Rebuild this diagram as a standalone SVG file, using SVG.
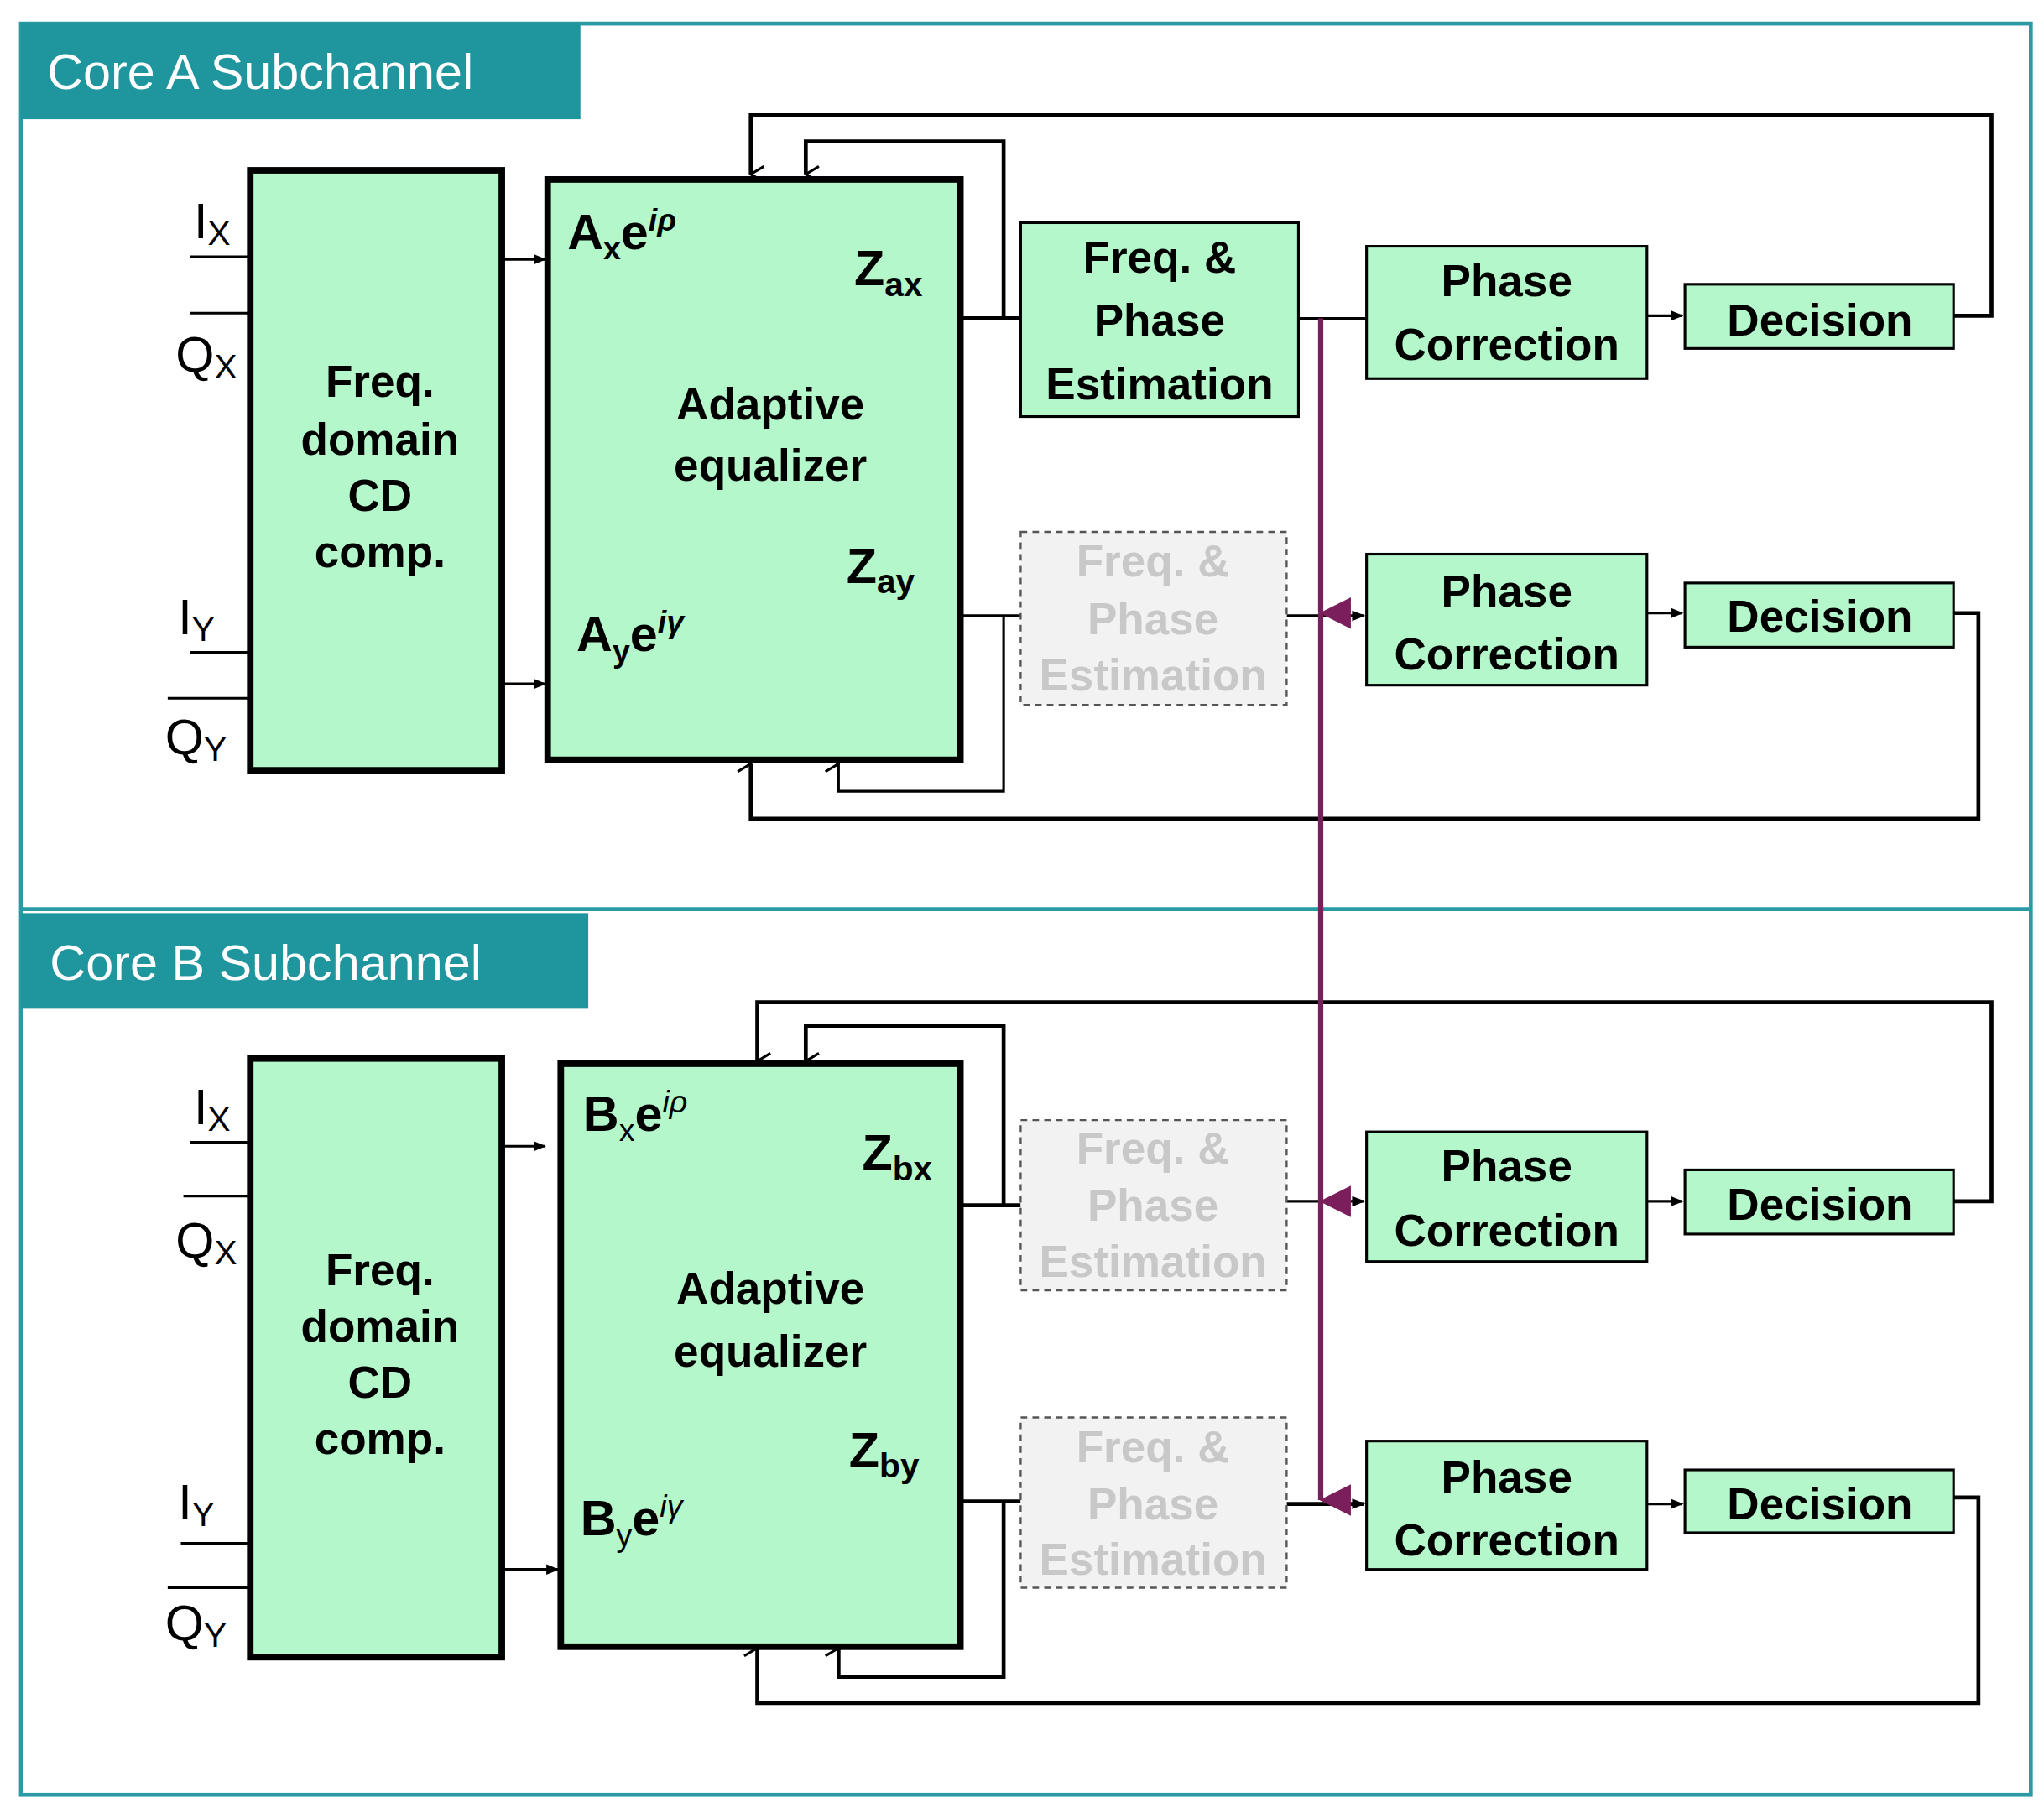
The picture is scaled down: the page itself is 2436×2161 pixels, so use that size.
<svg xmlns="http://www.w3.org/2000/svg" width="2436" height="2161" viewBox="0 0 2436 2161">
<style>
.frame{fill:none;stroke:#2a9aa5;stroke-width:3}
.tab{fill:#1f959e}
.tabt{font:38px "Liberation Sans",Arial,sans-serif;fill:#fff}
.thick{fill:#b3f7cb;stroke:#000;stroke-width:5}
.box{fill:#b3f7cb;stroke:#000;stroke-width:2}
.ghost{fill:#f2f2f2;stroke:#555;stroke-width:1.5;stroke-dasharray:5,4}
.t{font:bold 34px "Liberation Sans",Arial,sans-serif;text-anchor:middle;fill:#000}
.g{font:bold 34px "Liberation Sans",Arial,sans-serif;text-anchor:middle;fill:#c8c8c8}
.lbl{font:38px "Liberation Sans",Arial,sans-serif;fill:#000}
.eq{font:bold 38px "Liberation Sans",Arial,sans-serif;fill:#000}
.ln{fill:none;stroke:#000;stroke-width:3}
.thin{fill:none;stroke:#000;stroke-width:2}
.pur{fill:none;stroke:#7a1f5c;stroke-width:4}
</style>
<defs>
<marker id="a" markerWidth="10" markerHeight="10" refX="9" refY="5" orient="auto" markerUnits="userSpaceOnUse"><path d="M0,1 L10,5 L0,9 z" fill="#000"/></marker>
<marker id="v" markerWidth="14" markerHeight="14" refX="7" refY="13" orient="auto-start-reverse" markerUnits="userSpaceOnUse"><path d="M1,3 L7,13 L13,3" fill="none" stroke="#000" stroke-width="2"/></marker>
<marker id="p" markerWidth="26" markerHeight="26" refX="13" refY="24" orient="auto" markerUnits="userSpaceOnUse"><path d="M1,1 L25,1 L13,25 z" fill="#7a1f5c"/></marker>
</defs>
<g transform="scale(1.5615)">
<g id="frame">
<rect class="frame" x="16" y="18" width="1534" height="1352"/>
<line class="frame" x1="16" y1="694" x2="1550" y2="694"/>
<rect class="tab" x="16" y="18" width="427" height="73"/>
<text class="tabt" x="36" y="68">Core A Subchannel</text>
<rect class="tab" x="16" y="697" width="433" height="73"/>
<text class="tabt" x="38" y="748">Core B Subchannel</text>
</g>
<g id="connectors">
<!-- Core A -->
<path class="thin" d="M145,196H191M145,239H191M145,498H191M128,533H191"/>
<path class="thin" d="M383,198H416" marker-end="url(#a)"/>
<path class="thin" d="M383,522H416" marker-end="url(#a)"/>
<path class="ln" d="M733,243H779M766,243V108H615V133" marker-end="url(#v)"/>
<path class="ln" d="M1491,241H1520V88H573V133" marker-end="url(#v)"/>
<path class="thin" d="M991,243H1043"/>
<path class="thin" d="M1257,241H1284" marker-end="url(#a)"/>
<path class="thin" d="M720,470H779M766,470V604H640V583" marker-end="url(#v)"/>
<path class="ln" d="M1491,468H1510V625H573V583" marker-end="url(#v)"/>
<path class="thin" d="M982,470H1041" marker-end="url(#a)"/>
<path class="thin" d="M1257,468H1284" marker-end="url(#a)"/>
<!-- Core B -->
<path class="thin" d="M145,872H191M140,913H191M138,1178H191M128,1212H191"/>
<path class="thin" d="M383,875H416" marker-end="url(#a)"/>
<path class="thin" d="M383,1198H426" marker-end="url(#a)"/>
<path class="ln" d="M733,920H779M766,920V783H615V810" marker-end="url(#v)"/>
<path class="ln" d="M1491,917H1520V765H578V810" marker-end="url(#v)"/>
<path class="thin" d="M982,917H1041" marker-end="url(#a)"/>
<path class="thin" d="M1257,917H1284" marker-end="url(#a)"/>
<path class="ln" d="M728,1146H779M766,1146V1280H640V1258" marker-end="url(#v)"/>
<path class="ln" d="M1491,1143H1510V1300H578V1258" marker-end="url(#v)"/>
<path class="ln" d="M982,1148H1041" marker-end="url(#a)"/>
<path class="thin" d="M1257,1148H1284" marker-end="url(#a)"/>
<!-- purple -->
<path class="pur" d="M1008,243V468" marker-end="url(#p)"/>
<path class="pur" d="M1008,468V917" marker-end="url(#p)"/>
<path class="pur" d="M1008,917V1145" marker-end="url(#p)"/>
</g>
<g id="inputsA">
<text class="lbl" x="148" y="182">I<tspan font-size="26" dy="5">X</tspan></text>
<text class="lbl" x="134" y="284">Q<tspan font-size="26" dy="5">X</tspan></text>
<text class="lbl" x="136" y="484">I<tspan font-size="26" dy="5">Y</tspan></text>
<text class="lbl" x="126" y="576">Q<tspan font-size="26" dy="5">Y</tspan></text>
</g>
<g id="cdA"><rect class="thick" x="191" y="130" width="192" height="458"/>
<text class="t" x="290" y="303">Freq.</text><text class="t" x="290" y="347">domain</text><text class="t" x="290" y="390">CD</text><text class="t" x="290" y="433">comp.</text></g>
<g id="eqA"><rect class="thick" x="418" y="137" width="315" height="443"/>
<text class="t" x="588" y="320">Adaptive</text><text class="t" x="588" y="367">equalizer</text>
<text class="eq" x="433" y="190" font-weight="normal">A<tspan font-size="24" dy="8">x</tspan><tspan dy="-8" font-weight="bold">e</tspan><tspan font-size="24" dy="-14" font-style="italic">iρ</tspan></text>
<text class="eq" x="440" y="497" font-weight="normal">A<tspan font-size="24" dy="8">y</tspan><tspan dy="-8" font-weight="bold">e</tspan><tspan font-size="24" dy="-14" font-style="italic">iγ</tspan></text>
<text class="eq" x="652" y="218" font-weight="normal">Z<tspan font-size="26" dy="8">ax</tspan></text>
<text class="eq" x="646" y="445" font-weight="normal">Z<tspan font-size="26" dy="8">ay</tspan></text></g>
<g id="fpeA"><rect class="box" x="779" y="170" width="212" height="148"/>
<text class="t" x="885" y="208">Freq. &amp;</text><text class="t" x="885" y="256">Phase</text><text class="t" x="885" y="305">Estimation</text></g>
<g id="fpeA2"><rect class="ghost" x="779" y="406" width="203" height="132"/>
<text class="g" x="880" y="440">Freq. &amp;</text><text class="g" x="880" y="484">Phase</text><text class="g" x="880" y="527">Estimation</text></g>
<g id="pcA1"><rect class="box" x="1043" y="188" width="214" height="101"/>
<text class="t" x="1150" y="226">Phase</text><text class="t" x="1150" y="275">Correction</text></g>
<g id="decA1"><rect class="box" x="1286" y="217" width="205" height="49"/><text class="t" x="1389" y="256">Decision</text></g>
<g id="pcA2"><rect class="box" x="1043" y="423" width="214" height="100"/>
<text class="t" x="1150" y="463">Phase</text><text class="t" x="1150" y="511">Correction</text></g>
<g id="decA2"><rect class="box" x="1286" y="445" width="205" height="49"/><text class="t" x="1389" y="482">Decision</text></g>
<g id="inputsB">
<text class="lbl" x="148" y="858">I<tspan font-size="26" dy="5">X</tspan></text>
<text class="lbl" x="134" y="960">Q<tspan font-size="26" dy="5">X</tspan></text>
<text class="lbl" x="136" y="1160">I<tspan font-size="26" dy="5">Y</tspan></text>
<text class="lbl" x="126" y="1252">Q<tspan font-size="26" dy="5">Y</tspan></text>
</g>
<g id="cdB"><rect class="thick" x="191" y="808" width="192" height="457"/>
<text class="t" x="290" y="981">Freq.</text><text class="t" x="290" y="1024">domain</text><text class="t" x="290" y="1067">CD</text><text class="t" x="290" y="1110">comp.</text></g>
<g id="eqB"><rect class="thick" x="428" y="812" width="305" height="445"/>
<text class="t" x="588" y="995">Adaptive</text><text class="t" x="588" y="1043">equalizer</text>
<text class="eq" x="445" y="863">B<tspan font-size="24" dy="8" font-weight="normal">x</tspan><tspan dy="-8" font-weight="bold">e</tspan><tspan font-size="24" dy="-14" font-style="italic" font-weight="normal">iρ</tspan></text>
<text class="eq" x="443" y="1172">B<tspan font-size="24" dy="8" font-weight="normal">y</tspan><tspan dy="-8" font-weight="bold">e</tspan><tspan font-size="24" dy="-14" font-style="italic" font-weight="normal">iγ</tspan></text>
<text class="eq" x="658" y="893" font-weight="normal">Z<tspan font-size="26" dy="8">bx</tspan></text>
<text class="eq" x="648" y="1120" font-weight="normal">Z<tspan font-size="26" dy="8">by</tspan></text></g>
<g id="fpeB1"><rect class="ghost" x="779" y="855" width="203" height="130"/>
<text class="g" x="880" y="888">Freq. &amp;</text><text class="g" x="880" y="932">Phase</text><text class="g" x="880" y="975">Estimation</text></g>
<g id="fpeB2"><rect class="ghost" x="779" y="1082" width="203" height="130"/>
<text class="g" x="880" y="1116">Freq. &amp;</text><text class="g" x="880" y="1160">Phase</text><text class="g" x="880" y="1202">Estimation</text></g>
<g id="pcB1"><rect class="box" x="1043" y="864" width="214" height="99"/>
<text class="t" x="1150" y="902">Phase</text><text class="t" x="1150" y="951">Correction</text></g>
<g id="decB1"><rect class="box" x="1286" y="893" width="205" height="49"/><text class="t" x="1389" y="931">Decision</text></g>
<g id="pcB2"><rect class="box" x="1043" y="1100" width="214" height="98"/>
<text class="t" x="1150" y="1139">Phase</text><text class="t" x="1150" y="1187">Correction</text></g>
<g id="decB2"><rect class="box" x="1286" y="1122" width="205" height="48"/><text class="t" x="1389" y="1160">Decision</text></g>
</g>
</svg>
